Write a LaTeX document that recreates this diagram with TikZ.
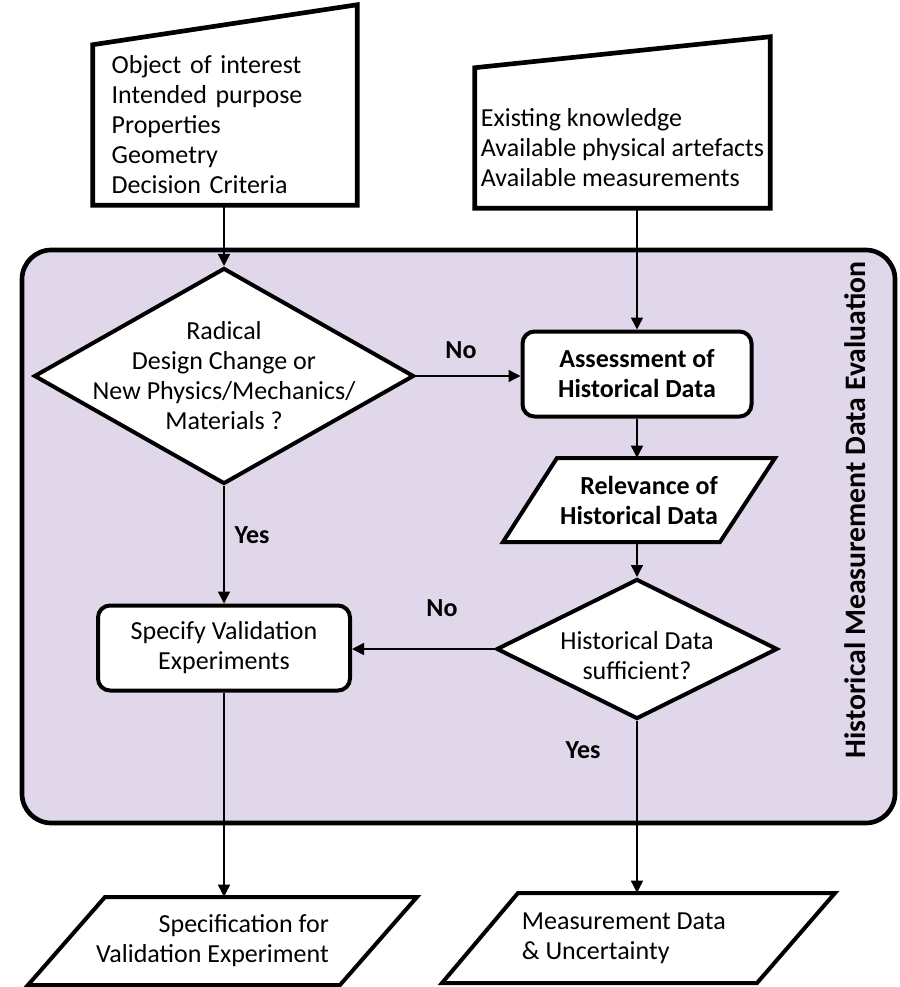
\documentclass[tikz,border=0pt]{standalone}
\usepackage{fontspec}
\setmainfont{Carlito}
\usepackage{tikz}
\usetikzlibrary{shapes.geometric, arrows.meta}
\definecolor{evalBg}{RGB}{224, 215, 235}
\newcommand\chartfont{\fontsize{19.5}{22.5}\selectfont}

\tikzset{
  proc/.style={draw, line width=3pt, rounded corners=9pt, fill=white, align=center},
  decide/.style={draw, diamond, line width=3pt, fill=white, inner sep=0pt},
  datashape/.style={draw, line width=3pt, fill=white},
  inbox/.style={inner sep=0pt},
  inshape/.style={line width=3.5pt},
  flow/.style={-{Triangle[length=9pt, width=9pt]}, line width=1.1pt},
  answer/.style={font=\chartfont\bfseries},
}

\begin{document}
\begin{tikzpicture}[x=0.75pt, y=-0.75pt, font=\chartfont]
  \useasboundingbox (0, 0) rectangle (899, 987);
  % evaluation frame
  \node[draw, line width=3.5pt, rounded corners=22pt, fill=evalBg,
        minimum width=654.75pt, minimum height=429.75pt] (frame) at (458.5, 536.5) {};
  \node[font=\fontsize{22.3}{26}\selectfont\bfseries, rotate=90] (title) at (855, 510)
    {Historical Measurement Data Evaluation};

  % inputs
  \node[inbox, minimum width=198pt, minimum height=120pt, text width=170pt,
        align=left] (objin) at (225, 125)
    {Object of interest\\Intended purpose\\Properties\\Geometry\\Decision Criteria};
  \draw[inshape] (objin.south west) -- (objin.south east)
    -- ([yshift=30pt]objin.north east) -- (objin.north west) -- cycle;
  \node[inbox, minimum width=221.25pt, minimum height=90pt, align=left] (knowin) at (622.5, 148)
    {Existing knowledge\\Available physical artefacts\\Available measurements};
  \draw[inshape] (knowin.south west) -- (knowin.south east)
    -- ([yshift=38.25pt]knowin.north east) -- ([yshift=15pt]knowin.north west) -- cycle;

  % decisions and steps
  \node[decide, minimum width=285pt, minimum height=162pt,
        label={[align=center]center:Radical\\Design Change or\\New Physics/Mechanics/\\Materials ?}]
    (redesign) at (224, 376) {};
  \node[decide, minimum width=210.75pt, minimum height=105pt,
        label={[align=center, yshift=-5pt]center:Historical Data\\sufficient?}]
    (enough) at (637, 649) {};
  \node[proc, font=\chartfont\bfseries, minimum width=171.75pt, minimum height=63.75pt]
    (assess) at (637, 374) {Assessment of\\Historical Data};
  \node[proc, minimum width=189pt, minimum height=63.75pt]
    (specify) at (224, 648) {Specify Validation\\Experiments};
  \draw[datashape] (557, 458) -- (775, 458) -- (720, 542) -- (503, 542) -- cycle;
  \node[font=\chartfont\bfseries, align=right, minimum height=63pt]
    (relevance) at (639, 500) {Relevance of\\Historical Data};

  % outputs
  \draw[datashape] (105, 897) -- (417, 897) -- (340, 985) -- (28, 985) -- cycle;
  \node[minimum height=66pt] (specout) at (222.5, 941)
    {\begin{tabular}{@{}r@{}}Specification for\\Validation Experiment\end{tabular}\hspace*{15pt}};
  \draw[datashape] (518, 893) -- (835, 893) -- (757, 983) -- (442, 983) -- cycle;
  \node[minimum height=67.5pt] (measout) at (638.5, 938)
    {\begin{tabular}{@{}l@{}}Measurement Data\\\& Uncertainty\end{tabular}\hspace*{22pt}};

  % connectors
  \draw[flow] (redesign.north |- objin.south) -- (redesign.north);
  \draw[flow] (assess.north |- knowin.south) -- (assess.north);
  \draw[flow] (redesign.east) -- (redesign.east -| assess.west);
  \draw[flow] (assess.south) -- (assess.south |- relevance.north);
  \draw[flow] (enough.north |- relevance.south) -- (enough.north);
  \draw[flow] (enough.west) -- (enough.west -| specify.east);
  \draw[flow] (redesign.south) -- (specify.north);
  \draw[flow] (specify.south) -- (specify.south |- specout.north);
  \draw[flow] (enough.south) -- (enough.south |- measout.north);

  \node[answer] (noA) at (461, 350) {No};
  \node[answer] (yesA) at (252, 535) {Yes};
  \node[answer] (noB) at (442, 608) {No};
  \node[answer] (yesB) at (583, 750) {Yes};
\end{tikzpicture}
\end{document}
